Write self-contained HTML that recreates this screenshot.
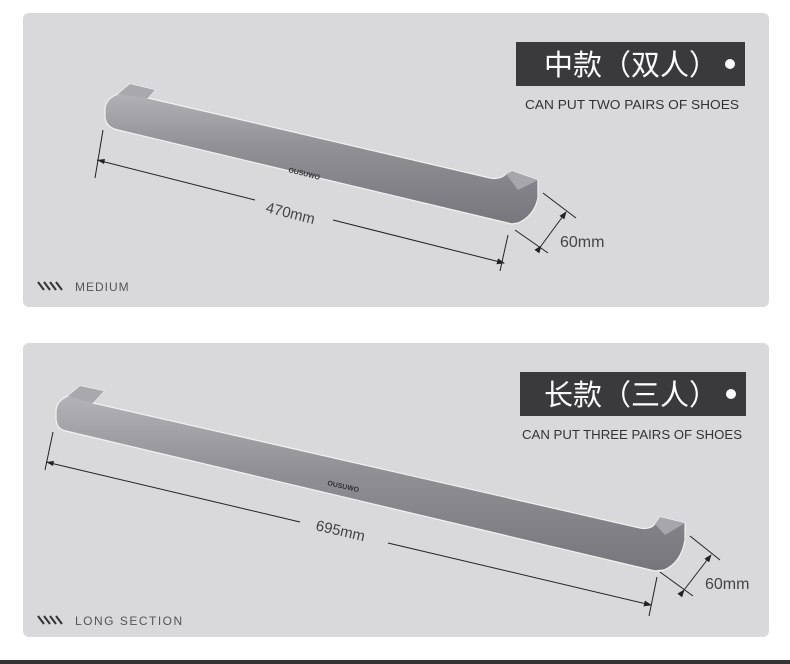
<!DOCTYPE html>
<html><head><meta charset="utf-8"><style>
body{margin:0;width:790px;height:664px;background:#fff;overflow:hidden;font-family:"Liberation Sans","Noto Sans CJK SC",sans-serif}
svg{position:absolute;left:0;top:0}
</style></head><body>
<svg width="790" height="664" viewBox="0 0 790 664" xmlns="http://www.w3.org/2000/svg">
<defs>
<linearGradient id="g" x1="0" y1="0" x2="0" y2="1">
<stop offset="0" stop-color="#b8b8bc"/><stop offset="0.45" stop-color="#909095"/><stop offset="1" stop-color="#76767c"/>
</linearGradient>
<marker id="a" markerWidth="8" markerHeight="8" refX="7" refY="4" orient="auto" markerUnits="userSpaceOnUse"><path d="M0,1 L8,4 L0,7z" fill="#222"/></marker>
</defs>
<rect x="23" y="13" width="746" height="294" rx="6" fill="#d9d9dc"/>
<rect x="23" y="343" width="746" height="294" rx="6" fill="#d9d9dc"/>
<rect x="0" y="660" width="790" height="4" fill="#333"/>

<!-- bar 1 -->
<path d="M105,110 Q105,99 118,94 L130,84 L155,90 L148,98 L490,178 Q500,180 506,174 L512,171 L538,180 L538,198 Q534,216 518,223 L512,224 L118,130 Q105,127 105,116 Z" fill="url(#g)" stroke="#f2f2f2" stroke-width="1.2"/>
<path d="M130,84 L155,90 L148,98 L118,94 Z" fill="#a8a8ad"/>
<path d="M512,171 L538,180 L518,190 L506,174 Z" fill="#a6a6ab"/>
<text x="288" y="172" font-size="7" font-weight="bold" fill="#333" transform="rotate(14 288 172)">OUSUWO</text>
<line x1="103" y1="130" x2="95" y2="178" stroke="#222"/>
<line x1="508" y1="235" x2="500" y2="271" stroke="#222"/>
<line x1="97" y1="160" x2="255" y2="200" stroke="#222"/>
<path d="M97,160 L105,159 L104,164z" fill="#222"/>
<line x1="333" y1="220" x2="504" y2="263" stroke="#222" marker-end="url(#a)"/>
<text x="265" y="212" font-size="15" fill="#444" transform="rotate(14 265 212)">470mm</text>
<line x1="543" y1="193" x2="576" y2="218" stroke="#222"/>
<line x1="515" y1="230" x2="548" y2="253" stroke="#222"/>
<line x1="541" y1="246" x2="566" y2="212" stroke="#222" marker-end="url(#a)" marker-start="url(#a)"/>
<text x="560" y="247" font-size="16" fill="#444">60mm</text>
<g stroke="#333" stroke-width="2"><line x1="38" y1="282" x2="44" y2="290"/><line x1="44" y1="282" x2="50" y2="290"/><line x1="50" y1="282" x2="56" y2="290"/><line x1="56" y1="282" x2="62" y2="290"/></g>
<text x="75" y="291" font-size="12" fill="#555" letter-spacing="1">MEDIUM</text>
<rect x="516" y="42" width="229" height="44" fill="#3a3a3c"/>
<text x="544" y="75" font-size="29" fill="#fff">中款（双人）</text>
<circle cx="730" cy="64" r="5" fill="#fff"/>
<text x="632" y="109" font-size="13" fill="#333" text-anchor="middle" textLength="214" lengthAdjust="spacingAndGlyphs">CAN PUT TWO PAIRS OF SHOES</text>

<!-- bar 2 -->
<path d="M56,412 Q56,401 68,396 L80,386 L104,391 L93,403 L640,528 Q650,530 655,524 L660,517 L685,523 L685,540 Q681,563 664,570 L655,571 L66,431 Q56,429 56,418 Z" fill="url(#g)" stroke="#f2f2f2" stroke-width="1.2"/>
<path d="M80,386 L104,391 L93,403 L68,396 Z" fill="#a8a8ad"/>
<path d="M660,517 L685,523 L665,535 L655,524 Z" fill="#a6a6ab"/>
<text x="327" y="485" font-size="7" font-weight="bold" fill="#333" transform="rotate(13 327 485)">OUSUWO</text>
<line x1="53" y1="432" x2="45" y2="470" stroke="#222"/>
<line x1="657" y1="577" x2="649" y2="616" stroke="#222"/>
<line x1="46" y1="462" x2="300" y2="522" stroke="#222"/>
<path d="M46,462 L54,461 L53,466z" fill="#222"/>
<line x1="388" y1="543" x2="651" y2="605" stroke="#222" marker-end="url(#a)"/>
<text x="315" y="530" font-size="15" fill="#444" transform="rotate(13 315 530)">695mm</text>
<line x1="690" y1="536" x2="720" y2="560" stroke="#222"/>
<line x1="660" y1="572" x2="693" y2="596" stroke="#222"/>
<line x1="684" y1="590" x2="711" y2="555" stroke="#222" marker-end="url(#a)" marker-start="url(#a)"/>
<text x="705" y="589" font-size="16" fill="#444">60mm</text>
<g stroke="#333" stroke-width="2"><line x1="38" y1="616" x2="44" y2="624"/><line x1="44" y1="616" x2="50" y2="624"/><line x1="50" y1="616" x2="56" y2="624"/><line x1="56" y1="616" x2="62" y2="624"/></g>
<text x="75" y="625" font-size="12" fill="#555" letter-spacing="1.5">LONG SECTION</text>
<rect x="520" y="372" width="226" height="44" fill="#3a3a3c"/>
<text x="544" y="405" font-size="29" fill="#fff">长款（三人）</text>
<circle cx="731" cy="394" r="5" fill="#fff"/>
<text x="632" y="439" font-size="13" fill="#333" text-anchor="middle" textLength="220" lengthAdjust="spacingAndGlyphs">CAN PUT THREE PAIRS OF SHOES</text>
</svg>
</body></html>
